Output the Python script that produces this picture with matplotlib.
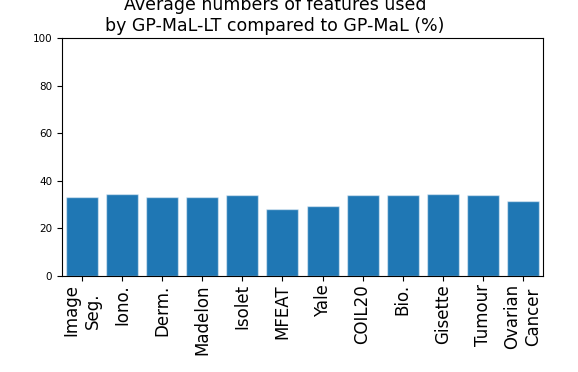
import matplotlib
matplotlib.use("Agg")
import matplotlib.pyplot as plt

datasets = ["Image\nSeg.", "Iono.", "Derm.", "Madelon", "Isolet", "MFEAT", "Yale",
            "COIL20", "Bio.", "Gisette", "Tumour", "Ovarian\nCancer"]
pct_used = [33.3, 34.3, 33.1, 33.1, 34.2, 28.0, 29.3, 34.2, 33.9, 34.5, 34.2, 31.4]

fig = plt.figure(figsize=(5.78, 3.72), dpi=100)
ax = fig.add_axes([0.1073, 0.258, 0.8321, 0.64])

x = range(len(datasets))
ax.bar(x, pct_used, width=0.8, color="#1f77b4", edgecolor=(1, 1, 1, 0.5), linewidth=1)
ax.set_xlim(-0.5, len(datasets) - 0.5)
ax.set_ylim(0, 100)
ax.set_yticks([0, 20, 40, 60, 80, 100])
ax.tick_params(axis="y", labelsize=7.5)
ax.tick_params(axis="x", pad=2.5)
ax.set_xticks(list(x))
ax.set_xticklabels(datasets, rotation=90, fontsize=12, ha="center", multialignment="center")
ax.set_title("Average numbers of features used\nby GP-MaL-LT compared to GP-MaL (%)",
             fontsize=12.5, x=0.443, pad=5)

fig.savefig("out.png", dpi=100)
